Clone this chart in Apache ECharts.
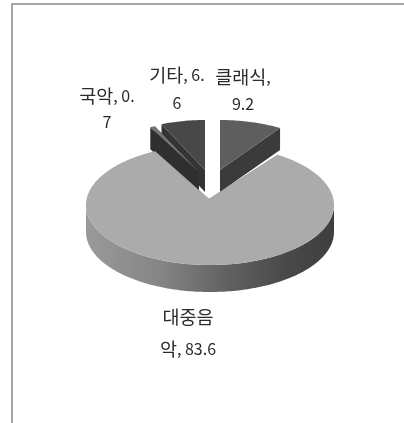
<!DOCTYPE html>
<html><head><meta charset="utf-8">
<style>html,body{margin:0;padding:0;background:#fff}#c{width:404px;height:423px}</style>
<script src="https://cdn.jsdelivr.net/npm/echarts@6/dist/echarts.min.js"></script>
</head><body><div id="c"></div>
<script>
const categories = ['클래식', '대중음악', '국악', '기타'];
const values = [9.2, 83.6, 0.7, 6.6];

// Drawing style and projection, per slice
const topColors = ['#5e5e5e', '#ababab', '#757575', '#484848'];
const wallColors = ['#3b3b3b', '#555555', '#2f2f2f', '#343434'];
const centers = [[220, 170], [210, 205], [199, 172], [205, 170]];
const apexes = [[220, 170], [209, 199], [199, 172], [205, 170]];
const radii = [[110, 50], [124, 60], [110, 50], [108, 50]];
const depths = [22, 27, 22, 22];
const layers = [1, 4, 3, 2];
const labelBreaks = [4, 3, 6, 6];
const labelAnchors = [[243, 63.5], [188, 301], [107, 83], [177, 61]];
const labelLineHeights = [27, 32, 26, 28];
const fontFamily = '"Noto Sans CJK KR", sans-serif';

const total = values.reduce((a, b) => a + b, 0);
function span(i) {
  let before = 0;
  for (let k = 0; k < i; k++) before += values[k];
  return [before / total * 2 * Math.PI, (before + values[i]) / total * 2 * Math.PI];
}
function rim(i, a) {
  return [centers[i][0] + radii[i][0] * Math.sin(a), centers[i][1] - radii[i][1] * Math.cos(a)];
}
function down(p, d) { return [p[0], p[1] + d]; }
function richLine(s) {
  return s.split(/([가-힣]+)/).filter(Boolean)
    .map(part => (/[가-힣]/.test(part) ? '{h|' + part + '}' : '{d|' + part + '}')).join('');
}

function renderItem(params, api) {
  const i = params.dataIndex;
  const [a0, a1] = span(i);
  const steps = Math.max(2, Math.ceil((a1 - a0) / 0.02));
  const arc = [];
  for (let s = 0; s <= steps; s++) arc.push(rim(i, a0 + (a1 - a0) * s / steps));
  const c = apexes[i], d = depths[i], z = layers[i];
  const children = [];
  const wall = pts => ({ type: 'polygon', z2: z, shape: { points: pts }, style: { fill: wallColors[i] } });
  children.push(wall([c, arc[0], down(arc[0], d), down(c, d)]));
  children.push(wall([c, arc[steps], down(arc[steps], d), down(c, d)]));
  const front = arc.filter((p, s) => {
    const a = a0 + (a1 - a0) * s / steps;
    return a >= Math.PI / 2 && a <= Math.PI * 1.5;
  });
  if (front.length > 1) {
    children.push({
      type: 'polygon', z2: z,
      shape: { points: front.concat(front.map(p => down(p, d)).reverse()) },
      style: {
        fill: {
          type: 'linear', x: 0, y: 0, x2: 1, y2: 0,
          colorStops: [
            { offset: 0, color: '#9a9a9a' },
            { offset: 0.3, color: '#858585' },
            { offset: 0.55, color: '#636363' },
            { offset: 0.8, color: '#4a4a4a' },
            { offset: 1, color: '#3e3e3e' }
          ]
        }
      }
    });
  }
  children.push({ type: 'polygon', z2: z + 0.5, shape: { points: [c].concat(arc) }, style: { fill: topColors[i] } });
  const label = categories[i] + ', ' + api.value(0);
  const cut = labelBreaks[i];
  const lh = labelLineHeights[i];
  children.push({
    type: 'text', z2: 20,
    style: {
      x: labelAnchors[i][0], y: labelAnchors[i][1],
      text: richLine(label.slice(0, cut).trim()) + '\n' + richLine(label.slice(cut).trim()),
      align: 'center', verticalAlign: 'top',
      rich: {
        h: { fontFamily, fontSize: 18.5, fill: '#2b2b2b', lineHeight: lh },
        d: { fontFamily, fontSize: 16, fill: '#2b2b2b', lineHeight: lh }
      }
    }
  });
  return { type: 'group', children };
}

const chart = echarts.init(document.getElementById('c'), null, { renderer: 'canvas' });
chart.setOption({
  animation: false,
  backgroundColor: '#fff',
  graphic: [
    { type: 'polyline', silent: true, shape: { points: [[404, 4], [12, 4], [12, 423]] },
      style: { stroke: '#a6a6a6', lineWidth: 2, fill: null } }
  ],
  series: [{
    type: 'custom',
    coordinateSystem: 'none',
    renderItem,
    data: values.map((v, i) => ({ name: categories[i], value: [v] }))
  }]
});
</script></body></html>
